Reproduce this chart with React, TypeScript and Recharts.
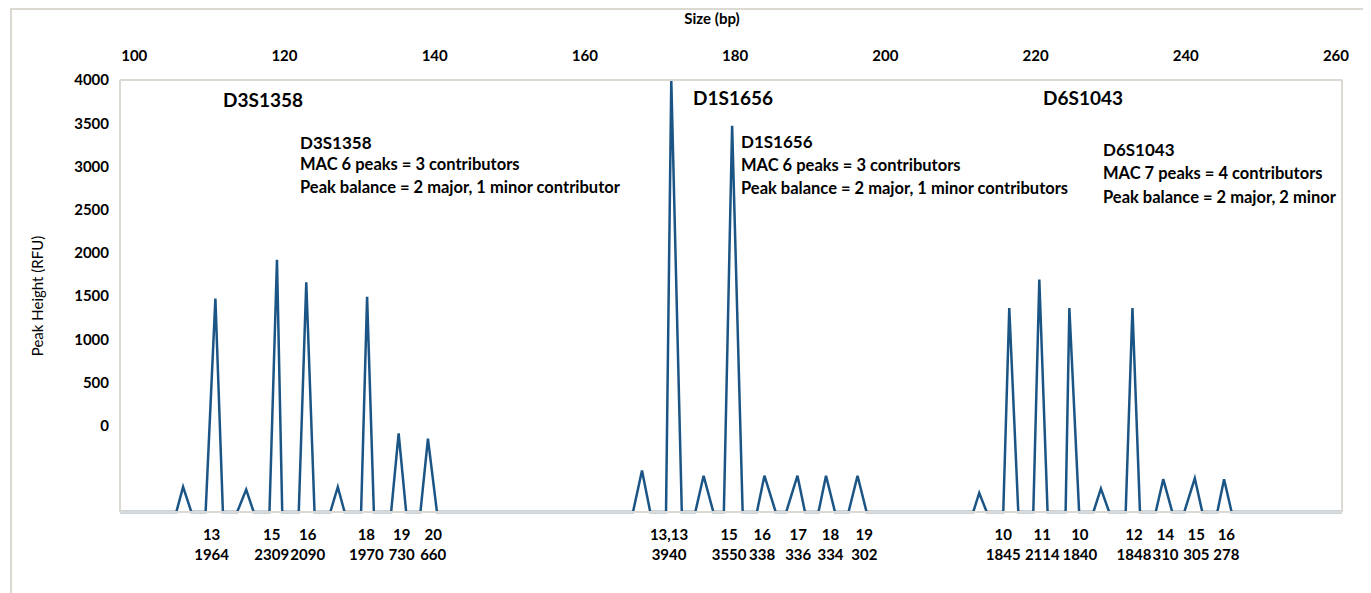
import React from "react";
import { LineChart, Line, XAxis, YAxis, Label } from "recharts";

// electropherogram trace: size (bp) and peak height (RFU, axis units) of every vertex
const traceSize = [
  98.1,
  105.6, 106.5, 107.6,
  109.5, 110.8, 111.8,
  113.7, 114.9, 115.9,
  118.0, 119.0, 119.7,
  121.9, 122.9, 124.0,
  126.1, 127.1, 128.0,
  130.2, 131.0, 131.9,
  134.2, 135.2, 136.2,
  138.1, 139.1, 140.3,
  166.4, 167.6, 168.7,
  170.8, 171.5, 172.9,
  174.7, 175.8, 177.1,
  178.5, 179.6, 181.0,
  182.9, 183.9, 185.4,
  186.8, 188.3, 189.3,
  191.1, 192.1, 193.3,
  195.1, 196.3, 197.5,
  211.7, 212.5, 213.5,
  215.7, 216.5, 217.7,
  219.7, 220.5, 221.6,
  224.0, 224.5, 225.8,
  227.7, 228.7, 229.8,
  232.0, 232.9, 233.9,
  236.0, 237.0, 238.2,
  239.8, 241.2, 242.2,
  244.2, 245.1, 246.1,
  260.8,
];

const traceRFU = [
  -1000,
  -1000, -710, -1000,
  -1000, 1470, -1000,
  -1000, -740, -1000,
  -1000, 1920, -1000,
  -1000, 1660, -1000,
  -1000, -710, -1000,
  -1000, 1490, -1000,
  -1000, -90, -1000,
  -1000, -150, -1000,
  -1000, -520, -1000,
  -1000, 4000, -1000,
  -1000, -580, -1000,
  -1000, 3470, -1000,
  -1000, -580, -1000,
  -1000, -580, -1000,
  -1000, -580, -1000,
  -1000, -580, -1000,
  -1000, -780, -1000,
  -1000, 1360, -1000,
  -1000, 1690, -1000,
  -1000, 1360, -1000,
  -1000, -730, -1000,
  -1000, 1360, -1000,
  -1000, -620, -1000,
  -1000, -610, -1000,
  -1000, -620, -1000,
  -1000,
];

const sizeTicks = [100, 120, 140, 160, 180, 200, 220, 240, 260];
const rfuTicks = [0, 500, 1000, 1500, 2000, 2500, 3000, 3500, 4000];

// allele calls printed under the peaks
const alleleLabelSize = [
  110.3, 118.3, 123.1, 130.9, 135.6, 139.8,
  171.2, 179.2, 183.6, 188.4, 192.7, 197.2,
  215.7, 220.9, 225.9, 233.1, 237.3, 241.4, 245.4,
];
const alleleCall = [
  "13", "15", "16", "18", "19", "20",
  "13,13", "15", "16", "17", "18", "19",
  "10", "11", "10", "12", "14", "15", "16",
];
const alleleRFU = [
  "1964", "2309", "2090", "1970", "730", "660",
  "3940", "3550", "338", "336", "334", "302",
  "1845", "2114", "1840", "1848", "310", "305", "278",
];

const notes = [
  { text: "D3S1358", x: 215, cy: 92, size: 19 },
  { text: "D3S1358", x: 292, cy: 135, size: 17 },
  { text: "MAC 6 peaks = 3 contributors", x: 292, cy: 156, size: 16.5 },
  { text: "Peak balance = 2 major, 1 minor contributor", x: 292, cy: 179, size: 16.5 },
  { text: "D1S1656", x: 685, cy: 90, size: 19 },
  { text: "D1S1656", x: 733, cy: 134, size: 17 },
  { text: "MAC 6 peaks = 3 contributors", x: 733, cy: 157, size: 16.5 },
  { text: "Peak balance = 2 major, 1 minor contributors", x: 733, cy: 180, size: 16.5 },
  { text: "D6S1043", x: 1035, cy: 90, size: 19 },
  { text: "D6S1043", x: 1095, cy: 142, size: 17 },
  { text: "MAC 7 peaks = 4 contributors", x: 1095, cy: 165, size: 16.5 },
  { text: "Peak balance = 2 major, 2 minor", x: 1095, cy: 189, size: 16.5 },
];

const data = traceSize.map((size, i) => ({ size, rfu: traceRFU[i] }));

const FONT = "Lato, 'Open Sans', sans-serif";
const FRAME = "#dcd9d3";
const BLUE = "#1b5585";
const W = 1363;
const H = 585;

const AlleleTick = (props: any) => {
  const { x, y, payload } = props;
  let i = props.index;
  if (i == null) i = alleleLabelSize.indexOf(payload.value);
  return (
    <text x={x} y={y} textAnchor="middle" fill="#000" fontSize={15} fontWeight={700} fontFamily={FONT}>
      <tspan x={x} dy={20}>{alleleCall[i]}</tspan>
      <tspan x={x} dy={20}>{alleleRFU[i]}</tspan>
    </text>
  );
};

export default function App() {
  return (
    <div style={{ position: "relative", width: W, height: H, fontFamily: FONT }}>
      <div
        style={{
          position: "absolute",
          left: 2,
          top: 0,
          width: 1357,
          height: 600,
          border: `2px solid ${FRAME}`,
          boxSizing: "border-box",
        }}
      />
      <LineChart width={W} height={H} data={data} margin={{ top: 0, right: 0, bottom: 0, left: 0 }}>
        <XAxis
          xAxisId="top"
          orientation="top"
          dataKey="size"
          type="number"
          domain={[98.1, 260.8]}
          ticks={sizeTicks}
          height={72}
          tickLine={false}
          tickMargin={13}
          axisLine={{ stroke: FRAME, strokeWidth: 2 }}
          tick={{ fill: "#000", fontSize: 15, fontWeight: 700, fontFamily: FONT }}
        >
          <Label
            value="Size (bp)"
            position="insideTop"
            offset={5}
            dx={-19}
            style={{ fill: "#000", fontSize: 15, fontWeight: 700, fontFamily: FONT }}
          />
        </XAxis>
        <XAxis
          xAxisId="allele"
          orientation="bottom"
          dataKey="size"
          type="number"
          domain={[98.1, 260.8]}
          ticks={alleleLabelSize}
          interval={0}
          height={81}
          tickLine={false}
          axisLine={{ stroke: FRAME, strokeWidth: 2 }}
          tick={<AlleleTick />}
        />
        <YAxis
          yAxisId="left"
          type="number"
          domain={[-1000, 4000]}
          ticks={rfuTicks}
          width={112}
          tickLine={false}
          tickMargin={5}
          axisLine={{ stroke: FRAME, strokeWidth: 2 }}
          tick={{ fill: "#000", fontSize: 15, fontWeight: 700, fontFamily: FONT }}
        >
          <Label
            value="Peak Height (RFU)"
            angle={-90}
            position="center"
            dx={-26}
            style={{ fill: "#000", fontSize: 15, fontWeight: 400, fontFamily: FONT }}
          />
        </YAxis>
        <YAxis
          yAxisId="right"
          orientation="right"
          type="number"
          domain={[-1000, 4000]}
          ticks={[]}
          tick={false}
          width={29}
          tickLine={false}
          axisLine={{ stroke: FRAME, strokeWidth: 2 }}
        />
        <Line
          xAxisId="top"
          yAxisId="left"
          type="linear"
          dataKey="rfu"
          stroke={BLUE}
          strokeWidth={2.5}
          dot={false}
          activeDot={false}
          isAnimationActive={false}
        />
      </LineChart>
      <svg
        width={W}
        height={H}
        style={{ position: "absolute", left: 0, top: 0, pointerEvents: "none" }}
      >
        {notes.map((n, i) => (
          <text
            key={i}
            x={n.x}
            y={n.cy + n.size * 0.36}
            fontSize={n.size}
            fontWeight={700}
            fontFamily={FONT}
            fill="#000"
          >
            {n.text}
          </text>
        ))}
      </svg>
    </div>
  );
}
